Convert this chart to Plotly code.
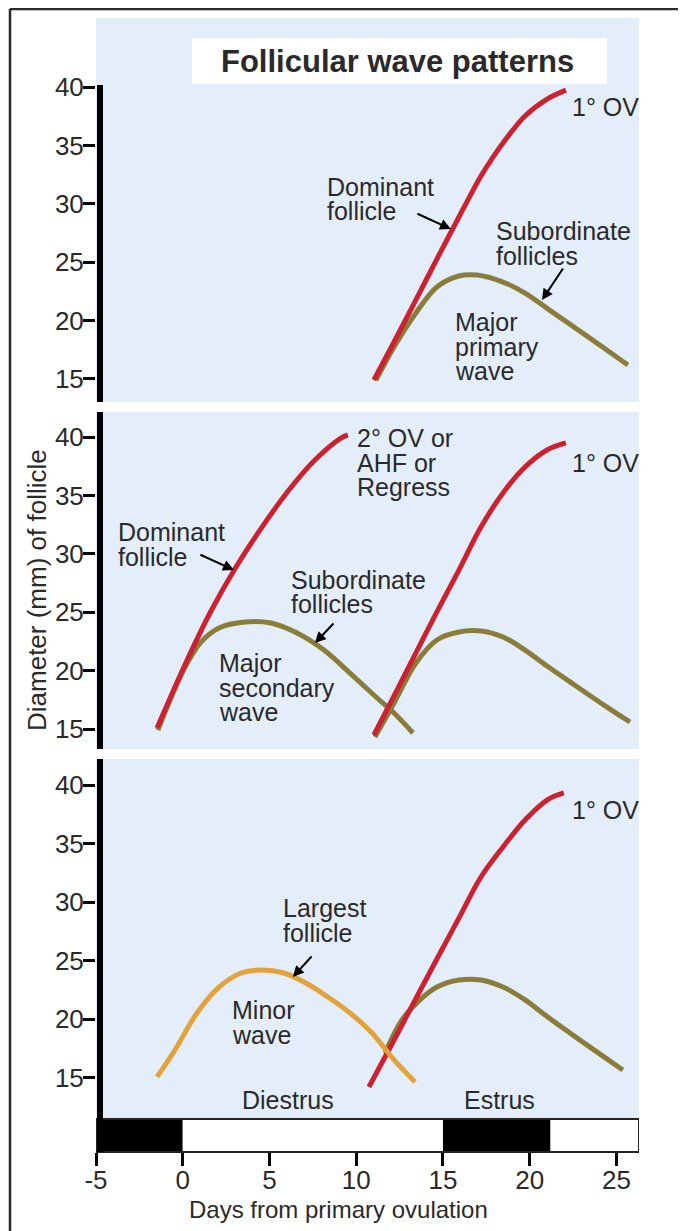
import plotly.graph_objects as go

# ---------------- data ----------------
# Panel 1: major primary wave
p1_dom_days = [11.02, 12.18, 13.44, 14.65, 15.92, 17.19, 17.82, 18.46, 19.73, 21.0, 22.09]
p1_dom_diam = [14.91, 18.17, 21.77, 25.27, 28.87, 32.38, 33.84, 35.21, 37.52, 38.97, 39.74]
p1_sub_days = [11.14, 12.18, 13.44, 14.65, 15.92, 16.96, 18.46, 19.73, 21.0, 22.26, 24.28, 25.66]
p1_sub_diam = [14.91, 17.74, 20.65, 22.88, 23.82, 23.9, 23.3, 22.36, 21.05, 19.75, 17.65, 16.2]

# Panel 2: major secondary wave + primary wave
p2a_dom_days = [-1.48, 0.07, 1.57, 3.07, 4.57, 6.12, 7.62, 9.12, 9.52]
p2a_dom_diam = [15.09, 20.31, 24.93, 28.87, 32.29, 35.46, 38.03, 39.91, 40.17]
p2a_sub_days = [-1.43, -0.7, 0.07, 0.56, 1.05, 2.09, 3.59, 5.09, 6.59, 8.14, 9.64, 11.14, 12.18, 13.27]
p2a_sub_diam = [14.91, 17.6, 20.1, 21.4, 22.45, 23.65, 24.16, 24.08, 23.22, 21.76, 19.79, 17.74, 16.37, 14.66]
p2b_dom_days = [11.02, 12.18, 13.44, 14.65, 15.92, 17.19, 18.46, 19.73, 21.0, 22.09]
p2b_dom_diam = [14.49, 17.83, 21.51, 25.02, 28.61, 32.29, 35.21, 37.43, 38.89, 39.49]
p2b_sub_days = [11.08, 12.18, 13.44, 14.65, 15.92, 17.19, 18.46, 19.73, 21.0, 22.26, 24.28, 25.78]
p2b_sub_diam = [14.32, 17.23, 20.65, 22.62, 23.3, 23.39, 22.88, 21.76, 20.4, 19.1, 17.05, 15.6]

# Panel 3: minor wave + primary wave
p3_minor_days = [-1.48, -0.45, 0.82, 2.09, 3.36, 4.57, 5.84, 7.1, 8.37, 9.64, 10.91, 12.18, 13.39]
p3_minor_diam = [15.09, 17.39, 20.55, 22.76, 23.96, 24.22, 23.96, 23.11, 21.91, 20.55, 18.84, 16.54, 14.66]
p3_dom_days = [10.73, 11.66, 12.64, 13.67, 14.65, 15.92, 17.19, 18.46, 19.73, 21.0, 21.97]
p3_dom_diam = [14.23, 16.79, 19.52, 22.42, 25.15, 28.65, 32.15, 34.71, 37.01, 38.72, 39.32]
p3_sub_days = [11.66, 12.64, 13.67, 14.65, 15.92, 17.19, 18.46, 19.73, 21.0, 22.26, 24.28, 25.37]
p3_sub_diam = [17.13, 19.95, 21.66, 22.76, 23.36, 23.36, 22.76, 21.66, 20.25, 18.9, 16.8, 15.68]

# Cycle bar (black = dark phases)
bar_starts = [-5, 0, 15, 21.2]
bar_ends = [0, 15, 21.2, 26.3]
bar_fill = ["black", "white", "black", "white"]

y_ticks = [15, 20, 25, 30, 35, 40]
x_ticks = [-5, 0, 5, 10, 15, 20, 25]
x_ticktext = ["-5", "0", "5", "10", "15", "20", "25"]

# ---------------- layout helpers ----------------
OFF = 8                       # page body margin
W, H = 686 - OFF, 1231 - OFF
FONT = "Liberation Sans, Arial, Helvetica, sans-serif"
TXT = "#2a2a2a"
RED = "#cc2131"
OLIVE = "#8a7d3a"
ORANGE = "#e2a33a"
BLUE = "#e4eefa"


def pxx(x):
    return (x - OFF) / W


def pxy(y):
    return 1 - (y - OFF) / H


fig = go.Figure()


def add_line(xs, ys, color, yaxis):
    fig.add_trace(go.Scatter(x=xs, y=ys, mode="lines", yaxis=yaxis,
                             line=dict(color=color, width=5, shape="spline", smoothing=1.0),
                             hoverinfo="skip", showlegend=False))


add_line(p1_sub_days, p1_sub_diam, OLIVE, "y")
add_line(p1_dom_days, p1_dom_diam, RED, "y")
add_line(p2a_sub_days, p2a_sub_diam, OLIVE, "y2")
add_line(p2a_dom_days, p2a_dom_diam, RED, "y2")
add_line(p2b_sub_days, p2b_sub_diam, OLIVE, "y2")
add_line(p2b_dom_days, p2b_dom_diam, RED, "y2")
add_line(p3_sub_days, p3_sub_diam, OLIVE, "y3")
add_line(p3_dom_days, p3_dom_diam, RED, "y3")
add_line(p3_minor_days, p3_minor_diam, ORANGE, "y3")

yax = dict(tickvals=y_ticks, ticktext=[str(t) for t in y_ticks], ticks="outside", ticklen=12,
           tickwidth=2.5, tickcolor="black", showline=False, showgrid=False, zeroline=False,
           tickfont=dict(family=FONT, size=26, color=TXT), anchor="x", fixedrange=True,
           automargin=False, ticklabelstandoff=-6)

fig.update_layout(
    template="none",
    width=W, height=H,
    margin=dict(l=0, r=0, t=0, b=0, pad=0, autoexpand=False),
    paper_bgcolor="white", plot_bgcolor=BLUE,
    xaxis=dict(domain=[pxx(96), pxx(639)], range=[-5, 26.3], tickvals=x_ticks, ticktext=x_ticktext,
               ticks="outside", ticklen=13, tickwidth=2.5, tickcolor="black",
               showline=False, showgrid=False, zeroline=False, anchor="free", automargin=False,
               position=pxy(1152), tickfont=dict(family=FONT, size=26, color=TXT), fixedrange=True,
               ticklabelstandoff=-8),
    yaxis=dict(domain=[pxy(402), pxy(18)], range=[13.03, 45.91], **yax),
    yaxis2=dict(domain=[pxy(749), pxy(412)], range=[13.29, 42.14], **yax),
    yaxis3=dict(domain=[pxy(1119), pxy(759)], range=[11.5, 42.22], **yax),
)

shapes = []
# outer frame (left + top)
shapes.append(dict(type="line", xref="paper", yref="paper", x0=pxx(10), x1=pxx(10), y0=pxy(9), y1=0,
                   line=dict(color="#2a2a2a", width=2.5), layer="above"))
shapes.append(dict(type="line", xref="paper", yref="paper", x0=pxx(10), x1=1, y0=pxy(9), y1=pxy(9),
                   line=dict(color="#2a2a2a", width=2.5), layer="above"))
# title box
shapes.append(dict(type="rect", xref="paper", yref="paper", x0=pxx(192), x1=pxx(607), y0=pxy(84), y1=pxy(38),
                   fillcolor="white", line=dict(width=0), layer="above"))
# cycle bar
for s, e, c in zip(bar_starts, bar_ends, bar_fill):
    shapes.append(dict(type="rect", xref="x", yref="paper", x0=s, x1=e, y0=pxy(1152), y1=pxy(1119),
                       fillcolor=c, line=dict(width=0), layer="above"))
shapes.append(dict(type="rect", xref="x", yref="paper", x0=bar_starts[0], x1=bar_ends[-1],
                   y0=pxy(1152), y1=pxy(1119), fillcolor="rgba(0,0,0,0)",
                   line=dict(color="#222", width=2), layer="above"))
# thick y axis lines
for y0, y1 in [(85, 402), (412, 749), (759, 1152)]:
    shapes.append(dict(type="line", xref="paper", yref="paper", x0=pxx(100), x1=pxx(100),
                       y0=pxy(y0), y1=pxy(y1), line=dict(color="black", width=6), layer="above"))
fig.update_layout(shapes=shapes)

ann = []


def text(lines, x, y0, size=25, step=24.5, anchor="left", bold=False):
    for i, t in enumerate(lines):
        ann.append(dict(text=("<b>%s</b>" % t) if bold else t, xref="paper", yref="paper",
                        x=pxx(x), y=pxy(y0 + i * step), xanchor=anchor, yanchor="middle",
                        showarrow=False, font=dict(family=FONT, size=size, color=TXT)))


text(["Follicular wave patterns"], 397, 61, size=31, anchor="center", bold=True)
# panel 1
text(["Dominant", "follicle"], 325, 187)
text(["1° OV"], 570, 107)
text(["Subordinate", "follicles"], 494, 231)
text(["Major", "primary", "wave"], 453, 322)
# panel 2
text(["2° OV or", "AHF or", "Regress"], 355, 438)
text(["1° OV"], 570, 463)
text(["Dominant", "follicle"], 116, 532)
text(["Subordinate", "follicles"], 289, 580)
text(["Major", "secondary", "wave"], 217, 663)
# panel 3
text(["1° OV"], 570, 810)
text(["Largest", "follicle"], 281, 908)
text(["Minor", "wave"], 230, 1010)
text(["Diestrus"], 288, 1100, anchor="center")
text(["Estrus"], 499, 1100, anchor="center")
# axis titles
text(["Days from primary ovulation"], 338, 1209, size=24, anchor="center")
ann.append(dict(text="Diameter (mm) of follicle", xref="paper", yref="paper", x=pxx(37), y=pxy(590),
                xanchor="center", yanchor="middle", textangle=-90, showarrow=False,
                font=dict(family=FONT, size=26, color=TXT)))


def arrow(x, y, yref, ax, ay):
    ann.append(dict(text="", x=x, y=y, xref="x", yref=yref, ax=ax, ay=ay, showarrow=True,
                    arrowhead=2, arrowsize=1.1, arrowwidth=2, arrowcolor="black", standoff=0))


arrow(15.46, 27.84, "y", -35, -16)
arrow(20.71, 21.76, "y", 22, -33)
arrow(2.95, 28.61, "y2", -35, -16)
arrow(7.62, 22.36, "y2", 20, -21)
arrow(6.35, 23.62, "y3", 20, -22)

fig.update_layout(annotations=ann)
fig.write_html("out.html")
